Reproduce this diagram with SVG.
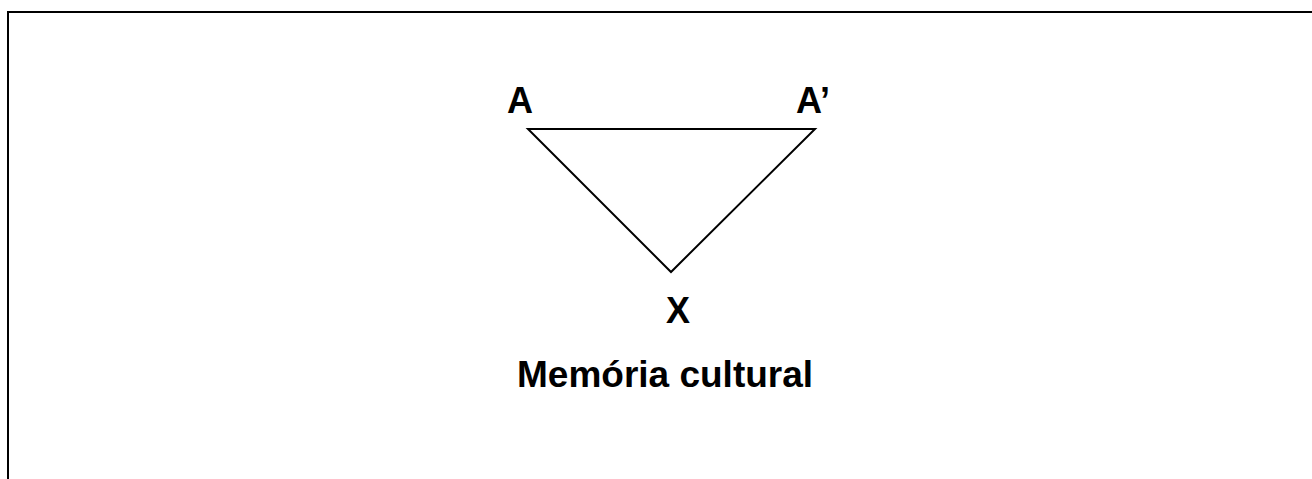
<svg xmlns="http://www.w3.org/2000/svg" width="1312" height="479" viewBox="0 0 1312 479">
<style>
.lbl{font-family:"Liberation Sans",Arial,sans-serif;font-weight:bold;font-size:36px;fill:#000}
.ttl{font-size:37px}
.ln{stroke:#000;fill:none}
</style>
<rect width="1312" height="479" fill="#fff"/>
<path class="ln" stroke-width="2" d="M8,479 V12 H1312"/>
<g id="connectors">
<path class="ln" stroke-width="2" d="M528,129 H815 L671,272 Z" stroke-linejoin="miter"/>
</g>
<g id="nodeA"><text class="lbl" x="507" y="113">A</text></g>
<g id="nodeA2"><text class="lbl" x="796" y="113">A’</text></g>
<g id="nodeX"><text class="lbl" x="678" y="323" text-anchor="middle">X</text></g>
<g id="title"><text class="lbl ttl" x="517" y="387">Memória cultural</text></g>
</svg>
